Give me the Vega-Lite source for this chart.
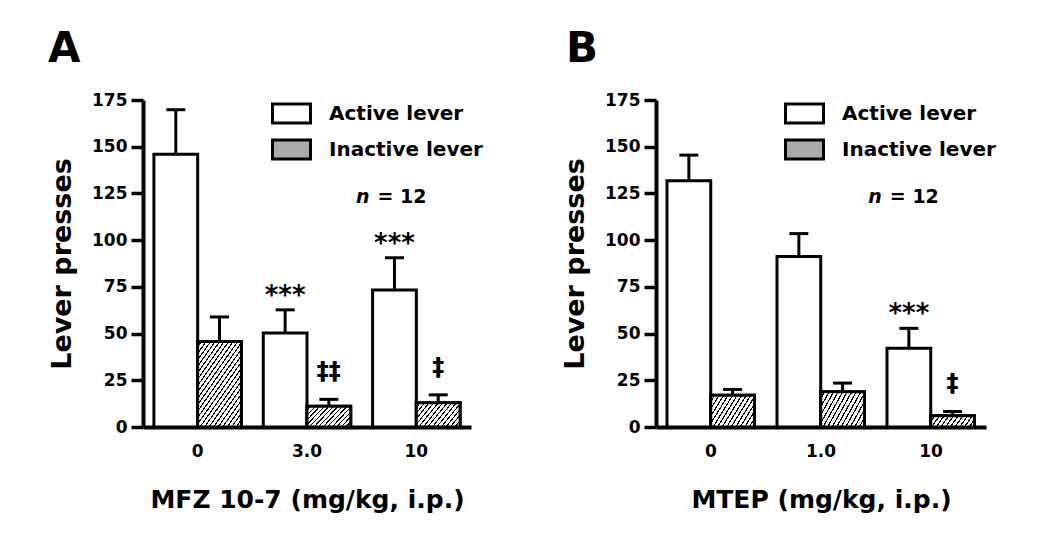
{
"$schema":"https://vega.github.io/schema/vega-lite/v6.json",
"padding":{"left":48,"top":28,"right":5,"bottom":5},
"background":"white",
"bounds":"flush",
"spacing":185,
"datasets":{
"a":[
{"dose":"0","lever":"Active lever","v":146,"hi":169.8,"sig":""},
{"dose":"0","lever":"Inactive lever","v":45.7,"hi":58.9,"sig":""},
{"dose":"3.0","lever":"Active lever","v":50.3,"hi":62.7,"sig":"***"},
{"dose":"3.0","lever":"Inactive lever","v":11.1,"hi":14.8,"sig":"‡‡"},
{"dose":"10","lever":"Active lever","v":73.3,"hi":90.6,"sig":"***"},
{"dose":"10","lever":"Inactive lever","v":13,"hi":17.2,"sig":"‡"}
],
"b":[
{"dose":"0","lever":"Active lever","v":131.8,"hi":145.5,"sig":""},
{"dose":"0","lever":"Inactive lever","v":17,"hi":20.1,"sig":""},
{"dose":"1.0","lever":"Active lever","v":91.2,"hi":103.5,"sig":""},
{"dose":"1.0","lever":"Inactive lever","v":18.8,"hi":23.5,"sig":""},
{"dose":"10","lever":"Active lever","v":42.2,"hi":52.8,"sig":"***"},
{"dose":"10","lever":"Inactive lever","v":6,"hi":8.3,"sig":"‡"}
],
"notes":[{"dose":"10","lever":"Active lever","y":120,"n":"n","rest":"= 12"}]
},
"hconcat":[
{"width":328,"height":327,
"title":{"text":"A","anchor":"start","frame":"group","dx":-95,"offset":20,"fontSize":42,"fontWeight":"bold","font":"DejaVu Sans","color":"#000"},
"data":{"name":"a"},
"layer":[
{"mark":{"type":"bar","stroke":"#000","strokeWidth":3,"opacity":1},
"encoding":{
"x":{"field":"dose","type":"nominal","sort":null,"scale":{"domain":["0","3.0","10"],"paddingInner":0.2,"paddingOuter":0.1},"axis":{"title":"MFZ 10-7 (mg/kg, i.p.)","labelAngle":0,"labelPadding":16,"ticks":false,"tickSize":0,"titlePadding":28}},
"xOffset":{"field":"lever","type":"nominal","sort":null,"scale":{"domain":["Active lever","Inactive lever"],"paddingInner":0,"paddingOuter":0}},
"y":{"field":"v","type":"quantitative","scale":{"domain":[0,175],"nice":false},"axis":{"title":"Lever presses","values":[0,25,50,75,100,125,150,175]}},
"fill":{"field":"lever","type":"nominal","scale":{"domain":["Active lever","Inactive lever"],"range":["#ffffff","#aaaaaa"]},
"legend":{"title":null,"orient":"none","legendX":128,"legendY":-7,"direction":"vertical","symbolType":"M-1,-0.5H1V0.5H-1Z","symbolSize":1444,"symbolStrokeColor":"#000","symbolStrokeWidth":3,"symbolOpacity":1,"labelFont":"DejaVu Sans","labelFontSize":20,"labelFontWeight":"bold","labelColor":"#000","labelOffset":17,"labelLimit":300,"rowPadding":-1,"padding":0,
"encode":{"symbols":{"update":{"shape":{"value":"M-1,-0.5H1V0.5H-1Z"},"size":{"value":1444},"stroke":{"value":"#000"},"strokeWidth":{"value":3},"opacity":{"value":1},"fillOpacity":{"value":1},"strokeOpacity":{"value":1}}}}}}
}},
{"transform":[{"filter":"datum.lever==='Inactive lever' && datum.v>30"}],
"mark":{"type":"bar","stroke":"#000","strokeWidth":3,"opacity":1,"fill":{"gradient":"linear","x1":0,"y1":0,"x2":0.82,"y2":1.13,"stops":[{"offset":0,"color":"#fff"},{"offset":0.0304,"color":"#fff"},{"offset":0.0304,"color":"#000"},{"offset":0.0435,"color":"#000"},{"offset":0.0435,"color":"#fff"},{"offset":0.0739,"color":"#fff"},{"offset":0.0739,"color":"#000"},{"offset":0.087,"color":"#000"},{"offset":0.087,"color":"#fff"},{"offset":0.1174,"color":"#fff"},{"offset":0.1174,"color":"#000"},{"offset":0.1304,"color":"#000"},{"offset":0.1304,"color":"#fff"},{"offset":0.1609,"color":"#fff"},{"offset":0.1609,"color":"#000"},{"offset":0.1739,"color":"#000"},{"offset":0.1739,"color":"#fff"},{"offset":0.2043,"color":"#fff"},{"offset":0.2043,"color":"#000"},{"offset":0.2174,"color":"#000"},{"offset":0.2174,"color":"#fff"},{"offset":0.2478,"color":"#fff"},{"offset":0.2478,"color":"#000"},{"offset":0.2609,"color":"#000"},{"offset":0.2609,"color":"#fff"},{"offset":0.2913,"color":"#fff"},{"offset":0.2913,"color":"#000"},{"offset":0.3043,"color":"#000"},{"offset":0.3043,"color":"#fff"},{"offset":0.3348,"color":"#fff"},{"offset":0.3348,"color":"#000"},{"offset":0.3478,"color":"#000"},{"offset":0.3478,"color":"#fff"},{"offset":0.3783,"color":"#fff"},{"offset":0.3783,"color":"#000"},{"offset":0.3913,"color":"#000"},{"offset":0.3913,"color":"#fff"},{"offset":0.4217,"color":"#fff"},{"offset":0.4217,"color":"#000"},{"offset":0.4348,"color":"#000"},{"offset":0.4348,"color":"#fff"},{"offset":0.4652,"color":"#fff"},{"offset":0.4652,"color":"#000"},{"offset":0.4783,"color":"#000"},{"offset":0.4783,"color":"#fff"},{"offset":0.5087,"color":"#fff"},{"offset":0.5087,"color":"#000"},{"offset":0.5217,"color":"#000"},{"offset":0.5217,"color":"#fff"},{"offset":0.5522,"color":"#fff"},{"offset":0.5522,"color":"#000"},{"offset":0.5652,"color":"#000"},{"offset":0.5652,"color":"#fff"},{"offset":0.5957,"color":"#fff"},{"offset":0.5957,"color":"#000"},{"offset":0.6087,"color":"#000"},{"offset":0.6087,"color":"#fff"},{"offset":0.6391,"color":"#fff"},{"offset":0.6391,"color":"#000"},{"offset":0.6522,"color":"#000"},{"offset":0.6522,"color":"#fff"},{"offset":0.6826,"color":"#fff"},{"offset":0.6826,"color":"#000"},{"offset":0.6957,"color":"#000"},{"offset":0.6957,"color":"#fff"},{"offset":0.7261,"color":"#fff"},{"offset":0.7261,"color":"#000"},{"offset":0.7391,"color":"#000"},{"offset":0.7391,"color":"#fff"},{"offset":0.7696,"color":"#fff"},{"offset":0.7696,"color":"#000"},{"offset":0.7826,"color":"#000"},{"offset":0.7826,"color":"#fff"},{"offset":0.813,"color":"#fff"},{"offset":0.813,"color":"#000"},{"offset":0.8261,"color":"#000"},{"offset":0.8261,"color":"#fff"},{"offset":0.8565,"color":"#fff"},{"offset":0.8565,"color":"#000"},{"offset":0.8696,"color":"#000"},{"offset":0.8696,"color":"#fff"},{"offset":0.9,"color":"#fff"},{"offset":0.9,"color":"#000"},{"offset":0.913,"color":"#000"},{"offset":0.913,"color":"#fff"},{"offset":0.9435,"color":"#fff"},{"offset":0.9435,"color":"#000"},{"offset":0.9565,"color":"#000"},{"offset":0.9565,"color":"#fff"},{"offset":0.987,"color":"#fff"},{"offset":0.987,"color":"#000"},{"offset":1,"color":"#000"}]}},
"encoding":{"x":{"field":"dose","type":"nominal","sort":null},"xOffset":{"field":"lever","type":"nominal","sort":null},"y":{"field":"v","type":"quantitative"}}},
{"transform":[{"filter":"datum.lever==='Inactive lever' && datum.v>9 && datum.v<=30"}],
"mark":{"type":"bar","stroke":"#000","strokeWidth":3,"opacity":1,"fill":{"gradient":"linear","x1":0,"y1":0,"x2":1.206,"y2":0.541,"stops":[{"offset":0,"color":"#fff"},{"offset":0.05,"color":"#fff"},{"offset":0.05,"color":"#000"},{"offset":0.0714,"color":"#000"},{"offset":0.0714,"color":"#fff"},{"offset":0.1214,"color":"#fff"},{"offset":0.1214,"color":"#000"},{"offset":0.1429,"color":"#000"},{"offset":0.1429,"color":"#fff"},{"offset":0.1929,"color":"#fff"},{"offset":0.1929,"color":"#000"},{"offset":0.2143,"color":"#000"},{"offset":0.2143,"color":"#fff"},{"offset":0.2643,"color":"#fff"},{"offset":0.2643,"color":"#000"},{"offset":0.2857,"color":"#000"},{"offset":0.2857,"color":"#fff"},{"offset":0.3357,"color":"#fff"},{"offset":0.3357,"color":"#000"},{"offset":0.3571,"color":"#000"},{"offset":0.3571,"color":"#fff"},{"offset":0.4071,"color":"#fff"},{"offset":0.4071,"color":"#000"},{"offset":0.4286,"color":"#000"},{"offset":0.4286,"color":"#fff"},{"offset":0.4786,"color":"#fff"},{"offset":0.4786,"color":"#000"},{"offset":0.5,"color":"#000"},{"offset":0.5,"color":"#fff"},{"offset":0.55,"color":"#fff"},{"offset":0.55,"color":"#000"},{"offset":0.5714,"color":"#000"},{"offset":0.5714,"color":"#fff"},{"offset":0.6214,"color":"#fff"},{"offset":0.6214,"color":"#000"},{"offset":0.6429,"color":"#000"},{"offset":0.6429,"color":"#fff"},{"offset":0.6929,"color":"#fff"},{"offset":0.6929,"color":"#000"},{"offset":0.7143,"color":"#000"},{"offset":0.7143,"color":"#fff"},{"offset":0.7643,"color":"#fff"},{"offset":0.7643,"color":"#000"},{"offset":0.7857,"color":"#000"},{"offset":0.7857,"color":"#fff"},{"offset":0.8357,"color":"#fff"},{"offset":0.8357,"color":"#000"},{"offset":0.8571,"color":"#000"},{"offset":0.8571,"color":"#fff"},{"offset":0.9071,"color":"#fff"},{"offset":0.9071,"color":"#000"},{"offset":0.9286,"color":"#000"},{"offset":0.9286,"color":"#fff"},{"offset":0.9786,"color":"#fff"},{"offset":0.9786,"color":"#000"},{"offset":1,"color":"#000"}]}},
"encoding":{"x":{"field":"dose","type":"nominal","sort":null},"xOffset":{"field":"lever","type":"nominal","sort":null},"y":{"field":"v","type":"quantitative"}}},
{"transform":[{"filter":"datum.lever==='Inactive lever' && datum.v<=9"}],
"mark":{"type":"bar","stroke":"#000","strokeWidth":3,"opacity":1,"fill":{"gradient":"linear","x1":0,"y1":0,"x2":1.1435,"y2":0.207,"stops":[{"offset":0,"color":"#fff"},{"offset":0.0636,"color":"#fff"},{"offset":0.0636,"color":"#000"},{"offset":0.0909,"color":"#000"},{"offset":0.0909,"color":"#fff"},{"offset":0.1545,"color":"#fff"},{"offset":0.1545,"color":"#000"},{"offset":0.1818,"color":"#000"},{"offset":0.1818,"color":"#fff"},{"offset":0.2455,"color":"#fff"},{"offset":0.2455,"color":"#000"},{"offset":0.2727,"color":"#000"},{"offset":0.2727,"color":"#fff"},{"offset":0.3364,"color":"#fff"},{"offset":0.3364,"color":"#000"},{"offset":0.3636,"color":"#000"},{"offset":0.3636,"color":"#fff"},{"offset":0.4273,"color":"#fff"},{"offset":0.4273,"color":"#000"},{"offset":0.4545,"color":"#000"},{"offset":0.4545,"color":"#fff"},{"offset":0.5182,"color":"#fff"},{"offset":0.5182,"color":"#000"},{"offset":0.5455,"color":"#000"},{"offset":0.5455,"color":"#fff"},{"offset":0.6091,"color":"#fff"},{"offset":0.6091,"color":"#000"},{"offset":0.6364,"color":"#000"},{"offset":0.6364,"color":"#fff"},{"offset":0.7,"color":"#fff"},{"offset":0.7,"color":"#000"},{"offset":0.7273,"color":"#000"},{"offset":0.7273,"color":"#fff"},{"offset":0.7909,"color":"#fff"},{"offset":0.7909,"color":"#000"},{"offset":0.8182,"color":"#000"},{"offset":0.8182,"color":"#fff"},{"offset":0.8818,"color":"#fff"},{"offset":0.8818,"color":"#000"},{"offset":0.9091,"color":"#000"},{"offset":0.9091,"color":"#fff"},{"offset":0.9727,"color":"#fff"},{"offset":0.9727,"color":"#000"},{"offset":1,"color":"#000"}]}},
"encoding":{"x":{"field":"dose","type":"nominal","sort":null},"xOffset":{"field":"lever","type":"nominal","sort":null},"y":{"field":"v","type":"quantitative"}}},
{"mark":{"type":"rule","strokeWidth":3,"color":"#000","opacity":1},
"encoding":{"x":{"field":"dose","type":"nominal","sort":null},"xOffset":{"field":"lever","type":"nominal","sort":null},"y":{"field":"v","type":"quantitative"},"y2":{"field":"hi"}}},
{"mark":{"type":"tick","orient":"horizontal","size":19,"thickness":3,"color":"#000","opacity":1},
"encoding":{"x":{"field":"dose","type":"nominal","sort":null},"xOffset":{"field":"lever","type":"nominal","sort":null},"y":{"field":"hi","type":"quantitative"}}},
{"transform":[{"filter":"datum.sig==='***'"}],
"mark":{"type":"text","font":"DejaVu Sans","fontWeight":"bold","fontSize":26,"baseline":"alphabetic","dy":-6,"color":"#000","opacity":1},
"encoding":{"x":{"field":"dose","type":"nominal","sort":null},"xOffset":{"field":"lever","type":"nominal","sort":null},"y":{"field":"hi","type":"quantitative"},"text":{"field":"sig"}}},
{"transform":[{"filter":"indexof(datum.sig,'‡')>=0"}],
"mark":{"type":"text","font":"DejaVu Sans","fontWeight":"bold","fontSize":24,"baseline":"alphabetic","dy":-20,"color":"#000","opacity":1},
"encoding":{"x":{"field":"dose","type":"nominal","sort":null},"xOffset":{"field":"lever","type":"nominal","sort":null},"y":{"field":"hi","type":"quantitative"},"text":{"field":"sig"}}},
{"data":{"name":"notes"},
"mark":{"type":"text","font":"DejaVu Sans","fontWeight":"bold","fontStyle":"italic","fontSize":19,"baseline":"alphabetic","align":"right","dx":-25,"color":"#000","opacity":1},
"encoding":{"x":{"field":"dose","type":"nominal","sort":null},"xOffset":{"field":"lever","type":"nominal","sort":null},"y":{"field":"y","type":"quantitative"},"text":{"field":"n"}}},
{"data":{"name":"notes"},
"mark":{"type":"text","font":"DejaVu Sans","fontWeight":"bold","fontSize":19,"baseline":"alphabetic","align":"left","dx":-17,"color":"#000","opacity":1},
"encoding":{"x":{"field":"dose","type":"nominal","sort":null},"xOffset":{"field":"lever","type":"nominal","sort":null},"y":{"field":"y","type":"quantitative"},"text":{"field":"rest"}}}
]},
{"width":330,"height":327,
"title":{"text":"B","anchor":"start","frame":"group","dx":-90,"offset":20,"fontSize":42,"fontWeight":"bold","font":"DejaVu Sans","color":"#000"},
"data":{"name":"b"},
"layer":[
{"mark":{"type":"bar","stroke":"#000","strokeWidth":3,"opacity":1},
"encoding":{
"x":{"field":"dose","type":"nominal","sort":null,"scale":{"domain":["0","1.0","10"],"paddingInner":0.2,"paddingOuter":0.1},"axis":{"title":"MTEP (mg/kg, i.p.)","labelAngle":0,"labelPadding":16,"ticks":false,"tickSize":0,"titlePadding":28}},
"xOffset":{"field":"lever","type":"nominal","sort":null,"scale":{"domain":["Active lever","Inactive lever"],"paddingInner":0,"paddingOuter":0}},
"y":{"field":"v","type":"quantitative","scale":{"domain":[0,175],"nice":false},"axis":{"title":"Lever presses","values":[0,25,50,75,100,125,150,175]}},
"fill":{"field":"lever","type":"nominal","scale":{"domain":["Active lever","Inactive lever"],"range":["#ffffff","#aaaaaa"]},
"legend":{"title":null,"orient":"none","legendX":128,"legendY":-7,"direction":"vertical","symbolType":"M-1,-0.5H1V0.5H-1Z","symbolSize":1444,"symbolStrokeColor":"#000","symbolStrokeWidth":3,"symbolOpacity":1,"labelFont":"DejaVu Sans","labelFontSize":20,"labelFontWeight":"bold","labelColor":"#000","labelOffset":17,"labelLimit":300,"rowPadding":-1,"padding":0,
"encode":{"symbols":{"update":{"shape":{"value":"M-1,-0.5H1V0.5H-1Z"},"size":{"value":1444},"stroke":{"value":"#000"},"strokeWidth":{"value":3},"opacity":{"value":1},"fillOpacity":{"value":1},"strokeOpacity":{"value":1}}}}}}
}},
{"transform":[{"filter":"datum.lever==='Inactive lever' && datum.v>30"}],
"mark":{"type":"bar","stroke":"#000","strokeWidth":3,"opacity":1,"fill":{"gradient":"linear","x1":0,"y1":0,"x2":0.82,"y2":1.13,"stops":[{"offset":0,"color":"#fff"},{"offset":0.0304,"color":"#fff"},{"offset":0.0304,"color":"#000"},{"offset":0.0435,"color":"#000"},{"offset":0.0435,"color":"#fff"},{"offset":0.0739,"color":"#fff"},{"offset":0.0739,"color":"#000"},{"offset":0.087,"color":"#000"},{"offset":0.087,"color":"#fff"},{"offset":0.1174,"color":"#fff"},{"offset":0.1174,"color":"#000"},{"offset":0.1304,"color":"#000"},{"offset":0.1304,"color":"#fff"},{"offset":0.1609,"color":"#fff"},{"offset":0.1609,"color":"#000"},{"offset":0.1739,"color":"#000"},{"offset":0.1739,"color":"#fff"},{"offset":0.2043,"color":"#fff"},{"offset":0.2043,"color":"#000"},{"offset":0.2174,"color":"#000"},{"offset":0.2174,"color":"#fff"},{"offset":0.2478,"color":"#fff"},{"offset":0.2478,"color":"#000"},{"offset":0.2609,"color":"#000"},{"offset":0.2609,"color":"#fff"},{"offset":0.2913,"color":"#fff"},{"offset":0.2913,"color":"#000"},{"offset":0.3043,"color":"#000"},{"offset":0.3043,"color":"#fff"},{"offset":0.3348,"color":"#fff"},{"offset":0.3348,"color":"#000"},{"offset":0.3478,"color":"#000"},{"offset":0.3478,"color":"#fff"},{"offset":0.3783,"color":"#fff"},{"offset":0.3783,"color":"#000"},{"offset":0.3913,"color":"#000"},{"offset":0.3913,"color":"#fff"},{"offset":0.4217,"color":"#fff"},{"offset":0.4217,"color":"#000"},{"offset":0.4348,"color":"#000"},{"offset":0.4348,"color":"#fff"},{"offset":0.4652,"color":"#fff"},{"offset":0.4652,"color":"#000"},{"offset":0.4783,"color":"#000"},{"offset":0.4783,"color":"#fff"},{"offset":0.5087,"color":"#fff"},{"offset":0.5087,"color":"#000"},{"offset":0.5217,"color":"#000"},{"offset":0.5217,"color":"#fff"},{"offset":0.5522,"color":"#fff"},{"offset":0.5522,"color":"#000"},{"offset":0.5652,"color":"#000"},{"offset":0.5652,"color":"#fff"},{"offset":0.5957,"color":"#fff"},{"offset":0.5957,"color":"#000"},{"offset":0.6087,"color":"#000"},{"offset":0.6087,"color":"#fff"},{"offset":0.6391,"color":"#fff"},{"offset":0.6391,"color":"#000"},{"offset":0.6522,"color":"#000"},{"offset":0.6522,"color":"#fff"},{"offset":0.6826,"color":"#fff"},{"offset":0.6826,"color":"#000"},{"offset":0.6957,"color":"#000"},{"offset":0.6957,"color":"#fff"},{"offset":0.7261,"color":"#fff"},{"offset":0.7261,"color":"#000"},{"offset":0.7391,"color":"#000"},{"offset":0.7391,"color":"#fff"},{"offset":0.7696,"color":"#fff"},{"offset":0.7696,"color":"#000"},{"offset":0.7826,"color":"#000"},{"offset":0.7826,"color":"#fff"},{"offset":0.813,"color":"#fff"},{"offset":0.813,"color":"#000"},{"offset":0.8261,"color":"#000"},{"offset":0.8261,"color":"#fff"},{"offset":0.8565,"color":"#fff"},{"offset":0.8565,"color":"#000"},{"offset":0.8696,"color":"#000"},{"offset":0.8696,"color":"#fff"},{"offset":0.9,"color":"#fff"},{"offset":0.9,"color":"#000"},{"offset":0.913,"color":"#000"},{"offset":0.913,"color":"#fff"},{"offset":0.9435,"color":"#fff"},{"offset":0.9435,"color":"#000"},{"offset":0.9565,"color":"#000"},{"offset":0.9565,"color":"#fff"},{"offset":0.987,"color":"#fff"},{"offset":0.987,"color":"#000"},{"offset":1,"color":"#000"}]}},
"encoding":{"x":{"field":"dose","type":"nominal","sort":null},"xOffset":{"field":"lever","type":"nominal","sort":null},"y":{"field":"v","type":"quantitative"}}},
{"transform":[{"filter":"datum.lever==='Inactive lever' && datum.v>9 && datum.v<=30"}],
"mark":{"type":"bar","stroke":"#000","strokeWidth":3,"opacity":1,"fill":{"gradient":"linear","x1":0,"y1":0,"x2":1.206,"y2":0.541,"stops":[{"offset":0,"color":"#fff"},{"offset":0.05,"color":"#fff"},{"offset":0.05,"color":"#000"},{"offset":0.0714,"color":"#000"},{"offset":0.0714,"color":"#fff"},{"offset":0.1214,"color":"#fff"},{"offset":0.1214,"color":"#000"},{"offset":0.1429,"color":"#000"},{"offset":0.1429,"color":"#fff"},{"offset":0.1929,"color":"#fff"},{"offset":0.1929,"color":"#000"},{"offset":0.2143,"color":"#000"},{"offset":0.2143,"color":"#fff"},{"offset":0.2643,"color":"#fff"},{"offset":0.2643,"color":"#000"},{"offset":0.2857,"color":"#000"},{"offset":0.2857,"color":"#fff"},{"offset":0.3357,"color":"#fff"},{"offset":0.3357,"color":"#000"},{"offset":0.3571,"color":"#000"},{"offset":0.3571,"color":"#fff"},{"offset":0.4071,"color":"#fff"},{"offset":0.4071,"color":"#000"},{"offset":0.4286,"color":"#000"},{"offset":0.4286,"color":"#fff"},{"offset":0.4786,"color":"#fff"},{"offset":0.4786,"color":"#000"},{"offset":0.5,"color":"#000"},{"offset":0.5,"color":"#fff"},{"offset":0.55,"color":"#fff"},{"offset":0.55,"color":"#000"},{"offset":0.5714,"color":"#000"},{"offset":0.5714,"color":"#fff"},{"offset":0.6214,"color":"#fff"},{"offset":0.6214,"color":"#000"},{"offset":0.6429,"color":"#000"},{"offset":0.6429,"color":"#fff"},{"offset":0.6929,"color":"#fff"},{"offset":0.6929,"color":"#000"},{"offset":0.7143,"color":"#000"},{"offset":0.7143,"color":"#fff"},{"offset":0.7643,"color":"#fff"},{"offset":0.7643,"color":"#000"},{"offset":0.7857,"color":"#000"},{"offset":0.7857,"color":"#fff"},{"offset":0.8357,"color":"#fff"},{"offset":0.8357,"color":"#000"},{"offset":0.8571,"color":"#000"},{"offset":0.8571,"color":"#fff"},{"offset":0.9071,"color":"#fff"},{"offset":0.9071,"color":"#000"},{"offset":0.9286,"color":"#000"},{"offset":0.9286,"color":"#fff"},{"offset":0.9786,"color":"#fff"},{"offset":0.9786,"color":"#000"},{"offset":1,"color":"#000"}]}},
"encoding":{"x":{"field":"dose","type":"nominal","sort":null},"xOffset":{"field":"lever","type":"nominal","sort":null},"y":{"field":"v","type":"quantitative"}}},
{"transform":[{"filter":"datum.lever==='Inactive lever' && datum.v<=9"}],
"mark":{"type":"bar","stroke":"#000","strokeWidth":3,"opacity":1,"fill":{"gradient":"linear","x1":0,"y1":0,"x2":1.1435,"y2":0.207,"stops":[{"offset":0,"color":"#fff"},{"offset":0.0636,"color":"#fff"},{"offset":0.0636,"color":"#000"},{"offset":0.0909,"color":"#000"},{"offset":0.0909,"color":"#fff"},{"offset":0.1545,"color":"#fff"},{"offset":0.1545,"color":"#000"},{"offset":0.1818,"color":"#000"},{"offset":0.1818,"color":"#fff"},{"offset":0.2455,"color":"#fff"},{"offset":0.2455,"color":"#000"},{"offset":0.2727,"color":"#000"},{"offset":0.2727,"color":"#fff"},{"offset":0.3364,"color":"#fff"},{"offset":0.3364,"color":"#000"},{"offset":0.3636,"color":"#000"},{"offset":0.3636,"color":"#fff"},{"offset":0.4273,"color":"#fff"},{"offset":0.4273,"color":"#000"},{"offset":0.4545,"color":"#000"},{"offset":0.4545,"color":"#fff"},{"offset":0.5182,"color":"#fff"},{"offset":0.5182,"color":"#000"},{"offset":0.5455,"color":"#000"},{"offset":0.5455,"color":"#fff"},{"offset":0.6091,"color":"#fff"},{"offset":0.6091,"color":"#000"},{"offset":0.6364,"color":"#000"},{"offset":0.6364,"color":"#fff"},{"offset":0.7,"color":"#fff"},{"offset":0.7,"color":"#000"},{"offset":0.7273,"color":"#000"},{"offset":0.7273,"color":"#fff"},{"offset":0.7909,"color":"#fff"},{"offset":0.7909,"color":"#000"},{"offset":0.8182,"color":"#000"},{"offset":0.8182,"color":"#fff"},{"offset":0.8818,"color":"#fff"},{"offset":0.8818,"color":"#000"},{"offset":0.9091,"color":"#000"},{"offset":0.9091,"color":"#fff"},{"offset":0.9727,"color":"#fff"},{"offset":0.9727,"color":"#000"},{"offset":1,"color":"#000"}]}},
"encoding":{"x":{"field":"dose","type":"nominal","sort":null},"xOffset":{"field":"lever","type":"nominal","sort":null},"y":{"field":"v","type":"quantitative"}}},
{"mark":{"type":"rule","strokeWidth":3,"color":"#000","opacity":1},
"encoding":{"x":{"field":"dose","type":"nominal","sort":null},"xOffset":{"field":"lever","type":"nominal","sort":null},"y":{"field":"v","type":"quantitative"},"y2":{"field":"hi"}}},
{"mark":{"type":"tick","orient":"horizontal","size":19,"thickness":3,"color":"#000","opacity":1},
"encoding":{"x":{"field":"dose","type":"nominal","sort":null},"xOffset":{"field":"lever","type":"nominal","sort":null},"y":{"field":"hi","type":"quantitative"}}},
{"transform":[{"filter":"datum.sig==='***'"}],
"mark":{"type":"text","font":"DejaVu Sans","fontWeight":"bold","fontSize":26,"baseline":"alphabetic","dy":-6,"color":"#000","opacity":1},
"encoding":{"x":{"field":"dose","type":"nominal","sort":null},"xOffset":{"field":"lever","type":"nominal","sort":null},"y":{"field":"hi","type":"quantitative"},"text":{"field":"sig"}}},
{"transform":[{"filter":"indexof(datum.sig,'‡')>=0"}],
"mark":{"type":"text","font":"DejaVu Sans","fontWeight":"bold","fontSize":24,"baseline":"alphabetic","dy":-20,"color":"#000","opacity":1},
"encoding":{"x":{"field":"dose","type":"nominal","sort":null},"xOffset":{"field":"lever","type":"nominal","sort":null},"y":{"field":"hi","type":"quantitative"},"text":{"field":"sig"}}},
{"data":{"name":"notes"},
"mark":{"type":"text","font":"DejaVu Sans","fontWeight":"bold","fontStyle":"italic","fontSize":19,"baseline":"alphabetic","align":"right","dx":-27,"color":"#000","opacity":1},
"encoding":{"x":{"field":"dose","type":"nominal","sort":null},"xOffset":{"field":"lever","type":"nominal","sort":null},"y":{"field":"y","type":"quantitative"},"text":{"field":"n"}}},
{"data":{"name":"notes"},
"mark":{"type":"text","font":"DejaVu Sans","fontWeight":"bold","fontSize":19,"baseline":"alphabetic","align":"left","dx":-19,"color":"#000","opacity":1},
"encoding":{"x":{"field":"dose","type":"nominal","sort":null},"xOffset":{"field":"lever","type":"nominal","sort":null},"y":{"field":"y","type":"quantitative"},"text":{"field":"rest"}}}
]}
],
"resolve":{"scale":{"fill":"independent"},"legend":{"fill":"independent"}},
"config":{
"view":{"stroke":null},
"font":"DejaVu Sans",
"axis":{"labelFont":"DejaVu Sans","labelFontSize":17,"labelFontWeight":"bold","labelColor":"#000","titleFont":"DejaVu Sans","titleFontWeight":"bold","titleColor":"#000","domainColor":"#000","domainWidth":4,"tickColor":"#000","tickWidth":3.5,"grid":false},
"axisX":{"titleFontSize":25},
"axisY":{"titleFontSize":27,"tickSize":12,"labelPadding":4,"titlePadding":15}
}
}
